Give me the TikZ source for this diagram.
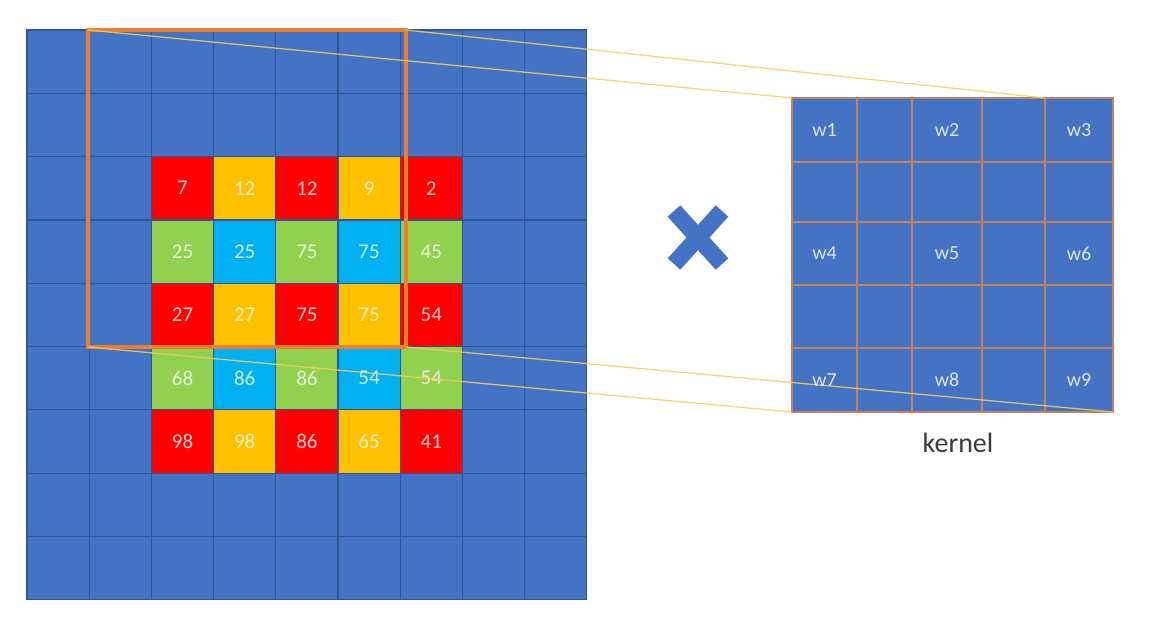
\documentclass[tikz,border=0pt]{standalone}
\usepackage{fontspec}
\setmainfont{Carlito}
\definecolor{cellblue}{HTML}{4472C4}
\definecolor{borderblue}{HTML}{2F5597}
\definecolor{cred}{HTML}{FF0000}
\definecolor{cyel}{HTML}{FFC000}
\definecolor{cgrn}{HTML}{92D050}
\definecolor{ccya}{HTML}{00B0F0}
\definecolor{orngc}{HTML}{ED7D31}
\definecolor{kborder}{HTML}{C8825A}
\definecolor{lineyel}{HTML}{F5CF55}
\definecolor{wtext}{HTML}{DCE6F4}
\definecolor{ktext}{HTML}{3A3A3A}
\begin{document}
\begin{tikzpicture}[x=1pt,y=-1pt,
  cell/.style={draw=borderblue, line width=1.2pt, fill=cellblue, minimum width=62.2pt, minimum height=63.3pt, inner sep=0pt, outer sep=0pt, anchor=north west},
  numcell/.style={cell, text=white, text opacity=0.8, font=\fontsize{21}{21}\selectfont},
  kcell/.style={draw=kborder, line width=1.8pt, fill=cellblue, inner sep=0pt, outer sep=0pt, anchor=north west},
  wlab/.style={text=wtext, font=\fontsize{20}{20}\selectfont, inner sep=0pt},
  yline/.style={draw=lineyel, line width=1.3pt, opacity=0.85},
  xarm/.style={draw=cellblue, line width=17pt, line cap=butt}]
\useasboundingbox (0,0) rectangle (1152,632);
\fill[white] (0,0) rectangle (1152,632);
% input grid
\foreach \i in {0,...,8}{
  \foreach \j in {0,...,8}{
    \node[cell] (g\i-\j) at ({27+62.2*\i},{30+63.3*\j}) {};
  }
}
% coloured values
\foreach \v/\c [count=\k from 0] in {7/cred,12/cyel,12/cred,9/cyel,2/cred,
  25/cgrn,25/ccya,75/cgrn,75/ccya,45/cgrn,
  27/cred,27/cyel,75/cred,75/cyel,54/cred,
  68/cgrn,86/ccya,86/cgrn,54/ccya,54/cgrn,
  98/cred,98/cyel,86/cred,65/cyel,41/cred}{
  \pgfmathtruncatemacro\ii{2+mod(\k,5)}
  \pgfmathtruncatemacro\jj{2+div(\k,5)}
  \node[numcell, fill=\c] (n\ii-\jj) at ({27+62.2*\ii},{30+63.3*\jj}) {\v};
}
% receptive window
\node[draw=orngc, line width=4pt, minimum width=318pt, minimum height=317pt, inner sep=0pt, outer sep=0pt, anchor=north west] (win) at (88,30) {};
% kernel frame
\node[minimum width=321pt, minimum height=314pt, inner sep=0pt, outer sep=0pt, anchor=north west] (kern) at (792,98) {};
% kernel cells
\foreach \a/\b [count=\i] in {792/857,857/912,912/982,982/1045,1045/1113}{
  \foreach \c/\d [count=\j] in {98/162,162/222,222/285,285/348,348/412}{
    \node[kcell, minimum width={\b-\a}, minimum height={\d-\c}] (k\i-\j) at (\a,\c) {};
  }
}
% connector lines
\draw[yline] (win.north east) -- (k5-1.north west);
\draw[yline] (win.north west) -- (kern.north west);
\draw[yline] (win.south west) -- (kern.south west);
\draw[yline] (win.south east) -- (kern.south east);
% weight labels
\node[wlab] (w1) at (k1-1) {w1};
\node[wlab] (w2) at (k3-1) {w2};
\node[wlab] (w3) at (k5-1) {w3};
\node[wlab] (w4) at (k1-3) {w4};
\node[wlab] (w5) at (k3-3) {w5};
\node[wlab] (w6) at (k5-3) {w6};
\node[wlab] (w7) at (k1-5) {w7};
\node[wlab] (w8) at (k3-5) {w8};
\node[wlab] (w9) at (k5-5) {w9};
% label
\node[text=ktext, font=\fontsize{28}{28}\selectfont, inner sep=0pt] (klab) at (958,443) {kernel};
% multiplication cross
\draw[xarm] (674,211) -- (722,264);
\draw[xarm] (722,211) -- (674,264);
\end{tikzpicture}
\end{document}
